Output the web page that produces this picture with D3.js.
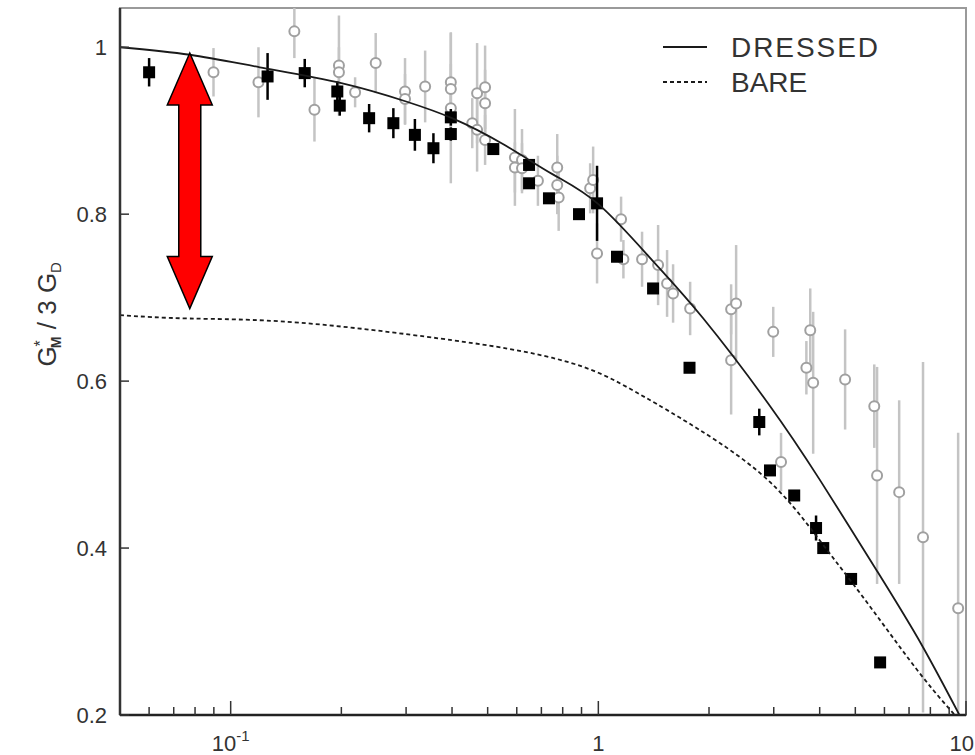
<!DOCTYPE html>
<html>
<head>
<meta charset="utf-8">
<script src="https://cdn.jsdelivr.net/npm/d3@7"></script>
<style>
  body { margin: 0; background: #fff; }
  svg { display: block; font-family: "Liberation Sans", Arial, sans-serif; }
</style>
</head>
<body>
<svg></svg>
<script>
// open grey circles: Q2, ratio, error
const grayX = [0.0898,0.119,0.149,0.169,0.197,0.197,0.218,0.248,0.298,0.298,0.338,0.397,0.397,0.397,0.454,0.468,0.468,0.492,0.492,0.492,
  0.593,0.593,0.620,0.620,0.685,0.773,0.773,0.780,0.950,0.968,0.992,1.153,1.170,1.315,1.454,1.538,1.597,1.777,2.297,2.297,2.370,
  2.990,3.140,3.680,3.770,3.840,4.690,5.630,5.730,6.580,7.640,9.520];
const grayY = [0.970,0.958,1.019,0.925,0.978,0.970,0.946,0.981,0.947,0.938,0.953,0.958,0.950,0.927,0.909,0.945,0.901,0.952,0.933,0.889,
  0.868,0.856,0.865,0.855,0.840,0.856,0.835,0.820,0.831,0.841,0.753,0.794,0.746,0.746,0.739,0.717,0.705,0.687,0.686,0.625,0.693,
  0.659,0.503,0.616,0.661,0.598,0.602,0.570,0.487,0.467,0.413,0.328];
const grayErr = [0.029,0.042,0.032,0.038,0.060,0.030,0.018,0.036,0.040,0.030,0.043,0.060,0.030,0.090,0.030,0.060,0.050,0.050,0.040,0.030,
  0.058,0.030,0.037,0.030,0.030,0.040,0.035,0.040,0.030,0.040,0.036,0.027,0.023,0.033,0.048,0.040,0.035,0.032,0.030,0.065,0.070,
  0.030,0.035,0.032,0.050,0.085,0.060,0.050,0.130,0.110,0.210,0.210];

// filled black squares
const blackX = [0.060,0.126,0.159,0.195,0.198,0.238,0.277,0.317,0.356,0.397,0.397,0.518,0.648,0.648,0.734,0.886,0.992,1.124,1.409,
  1.770,2.740,2.930,3.410,3.910,4.090,4.870,5.840];
const blackY = [0.970,0.965,0.969,0.947,0.930,0.915,0.909,0.895,0.879,0.916,0.896,0.878,0.859,0.837,0.819,0.800,0.813,0.749,0.711,
  0.616,0.551,0.493,0.463,0.424,0.400,0.363,0.263];
const blackErr = [0.017,0.028,0.017,0.012,0.012,0.017,0.018,0.019,0.018,0.010,0.008,0,0,0,0,0,0.045,0,0,
  0,0.016,0,0,0.015,0,0,0];

// model curves
const dressedX = [0.05,0.0774,0.12,0.2,0.3,0.4,0.55,0.75,1.0,1.4,1.93,2.9,4.0,5.7,7.6,10];
const dressedY = [1.000,0.991,0.976,0.957,0.935,0.915,0.884,0.848,0.812,0.745,0.675,0.573,0.482,0.374,0.283,0.185];
const bareX = [0.05,0.0774,0.154,0.371,0.565,0.748,1.0,1.299,1.668,2.75,3.94,5.15,6.62,8.14,10];
const bareY = [0.679,0.675,0.670,0.651,0.639,0.628,0.610,0.584,0.556,0.490,0.413,0.346,0.281,0.230,0.185];

const yTicks = [0.2, 0.4, 0.6, 0.8, 1];
const yTickLabels = ["0.2", "0.4", "0.6", "0.8", "1"];
const xMajor = [0.1, 1, 10];
const xMajorBase = ["10", "1", "10"];
const xMajorExp = ["-1", "", ""];
const legendLabels = ["DRESSED", "BARE"];

// arrow annotation (data coordinates)
const arrowX = 0.0774, arrowTop = 0.993, arrowBottom = 0.687;

const width = 975, height = 755;
const marginLeft = 120, marginRight = 9, marginTop = 8, marginBottom = 40;

const x = d3.scaleLog()
    .domain([0.05, 10])
    .range([marginLeft, width - marginRight]);
const y = d3.scaleLinear()
    .domain([0.2, 1.047])
    .range([height - marginBottom, marginTop]);

const svg = d3.select("svg")
    .attr("width", width)
    .attr("height", height)
    .attr("viewBox", [0, 0, width, height]);

svg.append("defs").append("clipPath").attr("id", "plot")
  .append("rect")
    .attr("x", marginLeft).attr("y", marginTop)
    .attr("width", width - marginLeft - marginRight)
    .attr("height", height - marginTop - marginBottom);

// frame: light top/right, dark left/bottom
svg.append("rect")
    .attr("x", marginLeft).attr("y", marginTop)
    .attr("width", width - marginLeft - marginRight)
    .attr("height", height - marginTop - marginBottom)
    .attr("fill", "none").attr("stroke", "#9a9a9a").attr("stroke-width", 2);

const plot = svg.append("g").attr("clip-path", "url(#plot)");

const gray = grayX.map((d, i) => ({x: d, y: grayY[i], e: grayErr[i]}));
const black = blackX.map((d, i) => ({x: d, y: blackY[i], e: blackErr[i]}));

// grey error bars + circles
plot.append("g")
  .selectAll("line")
  .data(gray)
  .join("line")
    .attr("x1", d => x(d.x)).attr("x2", d => x(d.x))
    .attr("y1", d => y(d.y - d.e)).attr("y2", d => y(d.y + d.e))
    .attr("stroke", "#c4c4c4").attr("stroke-width", 2.5);

plot.append("g")
  .selectAll("circle")
  .data(gray)
  .join("circle")
    .attr("cx", d => x(d.x)).attr("cy", d => y(d.y))
    .attr("r", 5)
    .attr("fill", "#fff").attr("stroke", "#a0a0a0").attr("stroke-width", 2);

// black error bars + squares
plot.append("g")
  .selectAll("line")
  .data(black.filter(d => d.e > 0))
  .join("line")
    .attr("x1", d => x(d.x)).attr("x2", d => x(d.x))
    .attr("y1", d => y(d.y - d.e)).attr("y2", d => y(d.y + d.e))
    .attr("stroke", "#000").attr("stroke-width", 2.5);

plot.append("g")
  .selectAll("rect")
  .data(black)
  .join("rect")
    .attr("x", d => x(d.x) - 6).attr("y", d => y(d.y) - 6)
    .attr("width", 12).attr("height", 12)
    .attr("fill", "#000");

// curves
const line = d3.line()
    .x(d => x(d[0]))
    .y(d => y(d[1]))
    .curve(d3.curveNatural);

plot.append("path")
    .datum(dressedX.map((d, i) => [d, dressedY[i]]))
    .attr("d", line)
    .attr("fill", "none").attr("stroke", "#1a1a1a").attr("stroke-width", 1.8);

plot.append("path")
    .datum(bareX.map((d, i) => [d, bareY[i]]))
    .attr("d", line)
    .attr("fill", "none").attr("stroke", "#1a1a1a").attr("stroke-width", 1.8)
    .attr("stroke-dasharray", "4,3");

// axes lines
svg.append("line")
    .attr("x1", marginLeft).attr("x2", marginLeft)
    .attr("y1", marginTop).attr("y2", height - marginBottom)
    .attr("stroke", "#333").attr("stroke-width", 2.5);
svg.append("line")
    .attr("x1", marginLeft).attr("x2", width - marginRight)
    .attr("y1", height - marginBottom).attr("y2", height - marginBottom)
    .attr("stroke", "#222").attr("stroke-width", 2.5);

// y ticks
svg.append("g")
  .selectAll("line")
  .data(yTicks)
  .join("line")
    .attr("x1", marginLeft).attr("x2", marginLeft + 9)
    .attr("y1", d => y(d)).attr("y2", d => y(d))
    .attr("stroke", "#333").attr("stroke-width", 1.5);

svg.append("g")
  .selectAll("text")
  .data(yTicks)
  .join("text")
    .attr("x", 107).attr("y", d => y(d))
    .attr("dy", "0.36em")
    .attr("text-anchor", "end")
    .attr("font-size", 22)
    .attr("fill", "#333")
    .text((d, i) => yTickLabels[i]);

// x ticks (major + minor from the log scale)
const xAll = x.ticks().filter(d => d > 0.05 && d <= 10);
svg.append("g")
  .selectAll("line")
  .data(xAll)
  .join("line")
    .attr("x1", d => x(d)).attr("x2", d => x(d))
    .attr("y1", height - marginBottom)
    .attr("y2", d => height - marginBottom - (xMajor.some(m => Math.abs(m - d) < 1e-9) ? 14 : 8))
    .attr("stroke", "#333").attr("stroke-width", 1.5);

// last label sits against the right edge, as in the original
const xl = svg.append("g")
  .selectAll("text")
  .data(xMajor)
  .join("text")
    .attr("x", (d, i) => i === xMajor.length - 1 ? width - 1 : x(d))
    .attr("y", 751)
    .attr("text-anchor", (d, i) => i === xMajor.length - 1 ? "end" : "middle")
    .attr("font-size", 22)
    .attr("fill", "#333");
xl.append("tspan").text((d, i) => xMajorBase[i]);
xl.append("tspan")
    .attr("dy", -10)
    .attr("font-size", 15)
    .text((d, i) => xMajorExp[i]);

// y title
const yt = svg.append("text")
    .attr("transform", `translate(56,${y(0.68)}) rotate(-90)`)
    .attr("text-anchor", "middle")
    .attr("font-size", 26)
    .attr("fill", "#333");
yt.append("tspan").text("G");
yt.append("tspan").attr("dy", -10).attr("font-size", 16).text("*");
yt.append("tspan").attr("dx", -8).attr("dy", 15).attr("font-size", 14).attr("font-weight", "bold").text("M");
yt.append("tspan").attr("dy", -5).text(" / 3 G");
yt.append("tspan").attr("dy", 5).attr("font-size", 15).text("D");

// legend
const legend = svg.append("g").attr("font-size", 28).attr("fill", "#333");
legendLabels.forEach((label, i) => {
  const ly = 47 + i * 35;
  legend.append("line")
      .attr("x1", 663).attr("x2", 707)
      .attr("y1", ly).attr("y2", ly)
      .attr("stroke", "#1a1a1a").attr("stroke-width", 1.8)
      .attr("stroke-dasharray", i === 1 ? "4,3" : null);
  legend.append("text")
      .attr("x", 731).attr("y", ly + 10)
      .attr("textLength", i === 0 ? 147 : null)
      .text(label);
});

// red double-headed arrow
const ax = x(arrowX), at = y(arrowTop), ab = y(arrowBottom);
const headLen = 52, headW = 22.5, shaftW = 11;
svg.append("path")
    .attr("d", [
      [ax, at], [ax + headW, at + headLen], [ax + shaftW, at + headLen],
      [ax + shaftW, ab - headLen], [ax + headW, ab - headLen], [ax, ab],
      [ax - headW, ab - headLen], [ax - shaftW, ab - headLen],
      [ax - shaftW, at + headLen], [ax - headW, at + headLen]
    ].map((p, i) => (i ? "L" : "M") + p[0] + "," + p[1]).join("") + "Z")
    .attr("fill", "#ff0000")
    .attr("stroke", "#000")
    .attr("stroke-width", 1.5)
    .attr("stroke-linejoin", "miter");
</script>
</body>
</html>
